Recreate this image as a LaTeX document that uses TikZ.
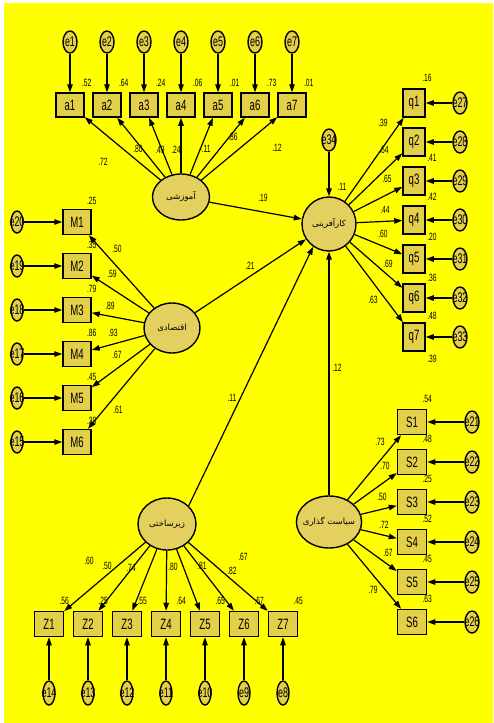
\documentclass[tikz,border=0pt]{standalone}
\usepackage{fontspec}
\setmainfont{Liberation Sans}
\newfontfamily\narrowfont{Liberation Sans}[FakeStretch=0.64]
\newfontfamily\arabicfont[Script=Arabic]{DejaVu Sans}
\TeXXeTstate=1
\usetikzlibrary{arrows.meta,shapes.geometric,positioning}
\definecolor{bgyellow}{RGB}{255,255,0}
\definecolor{boxfill}{RGB}{228,208,72}
\definecolor{latfill}{RGB}{228,208,95}

\begin{document}
\begin{tikzpicture}[x=1pt, y=-1pt,
    obs/.style={draw, line width=1.5pt, fill=boxfill, minimum width=28pt, minimum height=24pt, inner sep=0pt, font=\narrowfont\fontsize{15}{15}\selectfont},
    err/.style={draw, ellipse, line width=1.4pt, fill=boxfill, minimum width=14pt, minimum height=22pt, inner sep=-4pt, font=\narrowfont\fontsize{14}{14}\selectfont},
    lat/.style={draw, ellipse, line width=1.4pt, fill=latfill, inner sep=-3pt, font=\arabicfont\fontsize{8.5}{9}\selectfont},
    val/.style={inner sep=0pt, font=\narrowfont\fontsize{10.5}{11}\selectfont},
    reg/.style={-{Triangle[length=8pt,width=5.5pt]}, line width=1.2pt}]
    \useasboundingbox (0,0) rectangle (493,723);
    \fill[white] (0,0) rectangle (493,723);
    \fill[bgyellow] (4,3) rectangle (493,723);

    % latent variables
    \node[lat, minimum width=57pt, minimum height=46pt] (edu) at (181,197) {\beginR آموزشی\endR};
    \node[lat, minimum width=54pt, minimum height=54pt] (ent) at (329,224) {\beginR کارآفرینی\endR};
    \node[lat, minimum width=56pt, minimum height=50pt] (eco) at (172,328) {\beginR اقتصادی\endR};
    \node[lat, minimum width=58pt, minimum height=52pt] (inf) at (167,524) {\beginR زیرساختی\endR};
    \node[lat, minimum width=56pt, minimum height=52pt] (pol) at (329,522) {\beginR سیاست گذاری\endR};

    \node[err] (e34) at (329,140) {e34};
    \draw[reg] (e34) -- (ent);
    \node[val] (r34) at (342,187) {.11};

    \draw[reg] (edu) -- (ent);
    \draw[reg] (eco) -- (ent);
    \draw[reg] (inf.40) -- (ent.235);
    \draw[reg] (pol) -- (ent);
    \node[val] (s1) at (263,198) {.19};
    \node[val] (s2) at (250,266) {.21};
    \node[val] (s3) at (232,398) {.11};
    \node[val] (s4) at (337,368) {.12};

    % top row
    \foreach \i/\l/\lx/\ly/\r in {1/.72/103/162/.52, 2/.80/138/149/.64, 3/.49/160/150/.24,
        4/.24/176/150/.06, 5/-.11/205/149/.01, 6/.86/233/137/.73, 7/.12/277/148/.01}{
        \pgfmathsetmacro\xa{70+37*(\i-1)}
        \node[obs] (a\i) at (\xa,105) {a\i};
        \node[err] (e\i) at (\xa,42) {e\i};
        \draw[reg] (e\i) -- (a\i);
        \draw[reg] (edu) -- (a\i);
        \node[val] (la\i) at (\lx,\ly) {\l};
        \path (a\i.north east) ++(2,-9) node[val] (ra\i) {\r};
    }

    % right, upper
    \foreach \i/\l/\lx/\ly/\r/\rx/\ry in {1/.39/383/123/.16/427/78, 2/.64/384/150/.41/432/158,
        3/.65/387/179/.42/432/197, 4/.44/385/210/.20/432/237, 5/.60/383/234/.36/432/278,
        6/.69/388/264/.48/432/316, 7/.63/373/300/.39/432/359}{
        \pgfmathsetmacro\ya{103+39*(\i-1)}
        \pgfmathtruncatemacro\e{26+\i}
        \node[obs, minimum width=22pt, minimum height=28pt] (q\i) at (414,\ya) {q\i};
        \node[err] (e\e) at (460,\ya) {e\e};
        \draw[reg] (e\e) -- (q\i);
        \draw[reg] (ent) -- (q\i);
        \node[val] (lq\i) at (\lx,\ly) {\l};
        \node[val] (rq\i) at (\rx,\ry) {\r};
    }

    % left
    \foreach \i/\l/\lx/\ly/\r in {1/.50/117/249/.25, 2/.59/112/274/.35, 3/.89/110/306/.79,
        4/.93/113/333/.86, 5/.67/117/355/.45, 6/.61/118/410/.38}{
        \pgfmathsetmacro\ya{222+44*(\i-1)}
        \pgfmathtruncatemacro\e{21-\i}
        \node[obs, minimum height=25pt] (M\i) at (77,\ya) {M\i};
        \node[err, minimum width=12pt] (e\e) at (17,\ya) {e\e};
        \draw[reg] (e\e) -- (M\i);
        \draw[reg] (eco) -- (M\i);
        \node[val] (lm\i) at (\lx,\ly) {\l};
        \path (M\i.north east) ++(0,-8) node[val] (rm\i) {\r};
    }

    % right, lower
    \foreach \i/\l/\lx/\ly/\r in {1/.73/380/442/.54, 2/.70/385/466/.48, 3/.50/382/497/.25,
        4/.72/384/525/.52, 5/.67/388/553/.45, 6/.79/373/590/.63}{
        \pgfmathsetmacro\ya{422+40*(\i-1)}
        \pgfmathtruncatemacro\e{20+\i}
        \node[obs, minimum width=29pt, minimum height=25pt] (S\i) at (412,\ya) {S\i};
        \node[err] (e\e) at (472,\ya) {e\e};
        \draw[reg] (e\e) -- (S\i);
        \draw[reg] (pol) -- (S\i);
        \node[val] (ls\i) at (\lx,\ly) {\l};
        \path (S\i.north east) ++(0,-10) node[val] (rs\i) {\r};
    }

    % bottom row
    \foreach \i/\l/\lx/\ly/\r in {1/.60/89/561/.56, 2/.50/107/566/.25, 3/.74/131/568/.55,
        4/.80/173/567/.64, 5/.81/202/566/.65, 6/.82/232/571/.67, 7/.67/243/557/.45}{
        \pgfmathsetmacro\xa{49+39*(\i-1)}
        \pgfmathtruncatemacro\e{15-\i}
        \node[obs, minimum width=29pt, minimum height=25pt] (Z\i) at (\xa,624) {Z\i};
        \node[err, minimum width=12pt, minimum height=24pt] (e\e) at (\xa,693) {e\e};
        \draw[reg] (e\e) -- (Z\i);
        \draw[reg] (inf) -- (Z\i);
        \node[val] (lz\i) at (\lx,\ly) {\l};
        \path (Z\i.north east) ++(0,-10) node[val] (rz\i) {\r};
    }
\end{tikzpicture}
\end{document}
